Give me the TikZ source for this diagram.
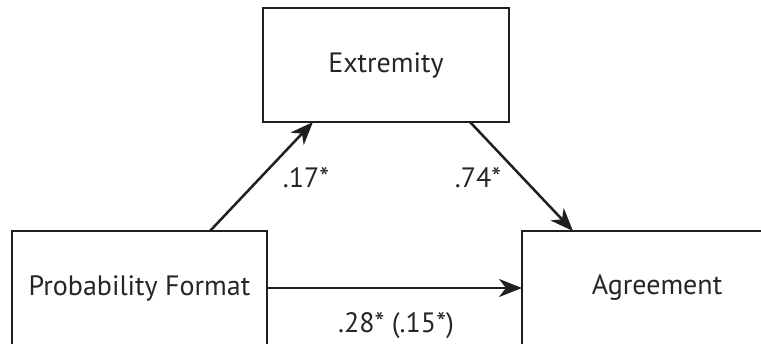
\documentclass[tikz,border=0pt]{standalone}
\usepackage{fontspec}
\setmainfont{PT Sans}
\usetikzlibrary{arrows.meta}
\begin{document}
\begin{tikzpicture}[x=1pt,y=-1pt,
  box/.style={draw=black!88,line width=2.5pt},
  lbl/.style={font=\fontsize{28}{32}\selectfont,text=black!85},
  conn/.style={draw=black!88,line width=2.5pt,-{Stealth[length=23pt,width=18pt,inset=7pt]}}]
\useasboundingbox (0,0) rectangle (761,343);
\draw[box] (12,231) rectangle (267,360);
\draw[box] (522,231) rectangle (792,360);
\draw[box] (263,8) rectangle (509,122);
\node[lbl] (pf) at (139.5,288) {Probability Format};
\node[lbl] (ag) at (657,288) {Agreement};
\node[lbl] (ex) at (386,65) {Extremity};
\coordinate (pft) at (210,231);
\coordinate (pfr) at (267,288);
\coordinate (exb1) at (313,122);
\coordinate (exb2) at (470,122);
\coordinate (agt) at (573,231);
\coordinate (agl) at (522,288);
\draw[conn] (pft) -- (exb1);
\draw[conn] (exb2) -- (agt);
\draw[conn] (pfr) -- (agl);
\node[lbl] (l1) at (306,178) {.17*};
\node[lbl] (l2) at (478,178) {.74*};
\node[lbl] (l3) at (396,326) {.28* (.15*)};
\end{tikzpicture}
\end{document}
